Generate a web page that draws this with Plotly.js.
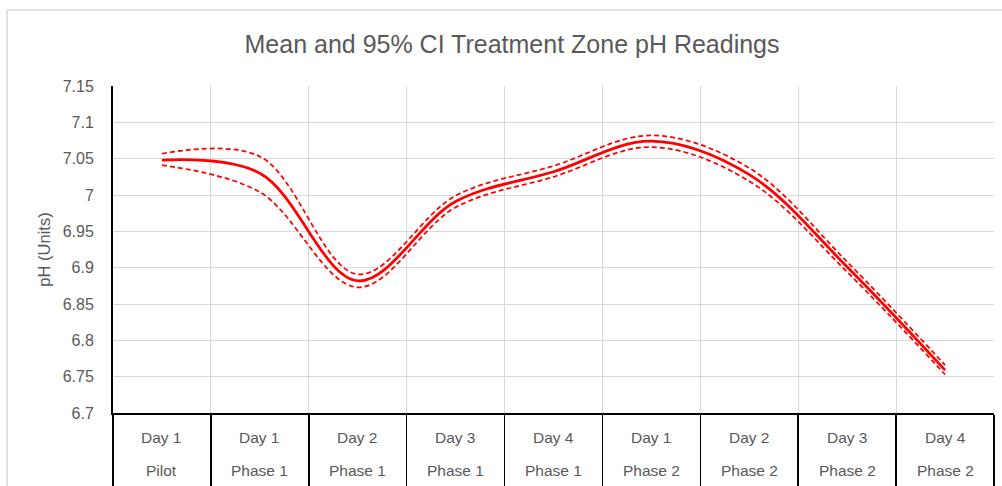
<!DOCTYPE html>
<html>
<head>
<meta charset="utf-8">
<script src="https://cdn.plot.ly/plotly-3.0.1.min.js"></script>
<style>
html,body{margin:0;padding:0;background:#fff;}
#chart{width:1002px;height:486px;}
</style>
</head>
<body>
<div id="chart"></div>
<script>
// ---- data ----
const dayLabels   = ["Day 1","Day 1","Day 2","Day 3","Day 4","Day 1","Day 2","Day 3","Day 4"];
const phaseLabels = ["Pilot","Phase 1","Phase 1","Phase 1","Phase 1","Phase 2","Phase 2","Phase 2","Phase 2"];
const meanPH  = [7.048, 7.030, 6.882, 6.991, 7.032, 7.074, 7.028, 6.901, 6.759];
const upperCI = [7.057, 7.053, 6.891, 6.999, 7.040, 7.082, 7.037, 6.908, 6.766];
const lowerCI = [7.041, 7.004, 6.873, 6.983, 7.025, 7.066, 7.019, 6.894, 6.753];
const yTickVals = [6.7, 6.75, 6.8, 6.85, 6.9, 6.95, 7, 7.05, 7.1, 7.15];
const yTickText = ["6.7","6.75","6.8","6.85","6.9","6.95","7","7.05","7.1","7.15"];
const chartTitle = "Mean and 95% CI Treatment Zone pH Readings";
const yTitle = "pH (Units)";

const idx = dayLabels.map((_, i) => i);
const boundaries = [];
for (let i = 0; i <= dayLabels.length; i++) boundaries.push(i - 0.5);

const FONT = "Liberation Sans, Arial, sans-serif";
const GREY = "#595959";

const traces = [
  {x: idx, y: upperCI, mode: "lines", line: {color: "#ff0000", width: 1.75, dash: "5px,3px", shape: "spline", smoothing: 1}, hoverinfo: "skip"},
  {x: idx, y: lowerCI, mode: "lines", line: {color: "#ff0000", width: 1.75, dash: "5px,3px", shape: "spline", smoothing: 1}, hoverinfo: "skip"},
  {x: idx, y: meanPH, mode: "lines", line: {color: "#ff0000", width: 2.75, shape: "spline", smoothing: 1}}
];

const annotations = [];
idx.forEach(i => {
  annotations.push({x: i, xref: "x", y: 0, yref: "paper", yshift: -24, text: dayLabels[i], showarrow: false,
    font: {family: FONT, size: 15.5, color: GREY}, xanchor: "center", yanchor: "middle"});
  annotations.push({x: i, xref: "x", y: 0, yref: "paper", yshift: -57, text: phaseLabels[i], showarrow: false,
    font: {family: FONT, size: 15.5, color: GREY}, xanchor: "center", yanchor: "middle"});
});

const layout = {
  width: 1002, height: 486,
  margin: {l: 113, r: 8, t: 86, b: 73},
  paper_bgcolor: "#ffffff", plot_bgcolor: "#ffffff",
  showlegend: false,
  title: {text: chartTitle, x: 0.511, xanchor: "center", y: 0.909, yanchor: "middle",
    font: {family: FONT, size: 25, color: GREY}},
  xaxis: {
    range: [-0.5, dayLabels.length - 0.5], type: "linear",
    tickvals: boundaries, ticktext: boundaries.map(() => ""),
    showgrid: true, gridcolor: "#d9d9d9", gridwidth: 1,
    ticks: "outside", ticklen: 75, tickcolor: "#000000", tickwidth: 1.5,
    showline: true, linecolor: "#000000", linewidth: 2,
    zeroline: false, fixedrange: true
  },
  yaxis: {
    range: [6.7, 7.15],
    tickvals: yTickVals, ticktext: yTickText,
    showgrid: true, gridcolor: "#d9d9d9", gridwidth: 1,
    ticks: "", showline: true, linecolor: "#000000", linewidth: 2,
    zeroline: false, ticklabelstandoff: 14,
    tickfont: {family: FONT, size: 16, color: GREY},
    title: {text: yTitle, font: {family: FONT, size: 16.5, color: GREY}, standoff: 8},
    fixedrange: true
  },
  annotations: annotations,
  shapes: [
    {type: "line", xref: "paper", yref: "paper", x0: -0.1203, x1: -0.1203, y0: 1.2324, y1: -0.35,
      line: {color: "#d9d9d9", width: 1.5}},
    {type: "line", xref: "paper", yref: "paper", x0: -0.1203, x1: 1.05, y0: 1.2324, y1: 1.2324,
      line: {color: "#d9d9d9", width: 1.5}}
  ]
};

Plotly.newPlot("chart", traces, layout, {displayModeBar: false, staticPlot: true});
</script>
</body>
</html>
